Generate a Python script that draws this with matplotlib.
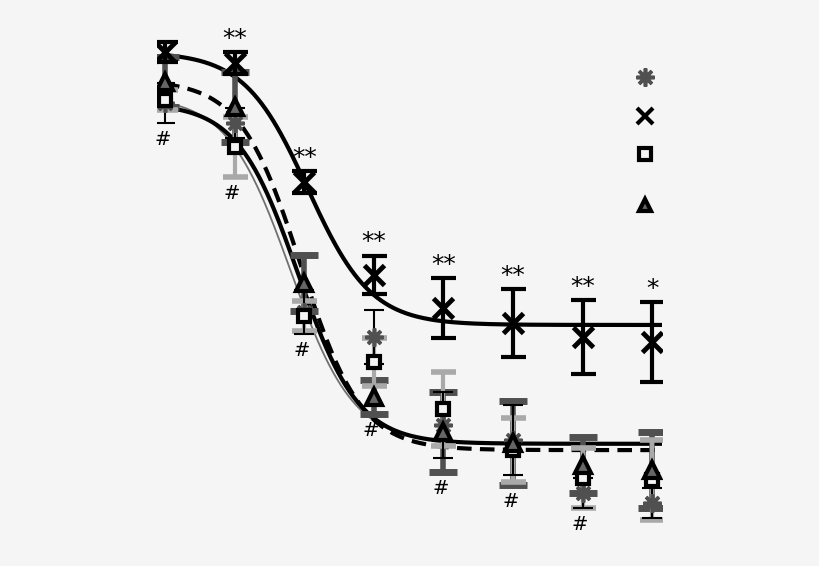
import numpy as np
import matplotlib
matplotlib.use("Agg")
import matplotlib.pyplot as plt
from matplotlib.lines import Line2D

BG = "#f5f5f5"
DARK = "#505050"
LIGHT = "#a9a9a9"

# log dose (index along x)
dose = [0, 1, 2, 3, 4, 5, 6, 7]

# mean response and SEM per group
x_mean = [99.9, 97.5, 71.1, 50.6, 43.3, 39.9, 36.8, 35.7]
x_err = [2.2, 2.4, 2.5, 4.2, 6.6, 7.5, 8.2, 8.9]
ast_mean = [88.6, 84.2, 42.4, 36.8, 17.4, 14.0, 2.3, 0.1]
ast_err = [4.4, 3.3, 4.9, 6.0, 7.3, 7.7, 3.3, 3.3]
sq_mean = [89.3, 78.9, 41.5, 31.3, 20.9, 11.8, 5.6, 5.2]
sq_err = [2.2, 6.6, 3.3, 5.3, 8.2, 7.1, 6.6, 8.9]
tri_mean = [93.3, 87.7, 48.8, 23.6, 15.8, 13.4, 8.5, 7.4]
tri_err = [5.5, 7.7, 6.2, 3.8, 8.9, 9.3, 6.2, 8.4]

# sigmoid fit parameters: top, bottom, midpoint, slope
fit_x = [99.9, 39.5, 2.05, 2.2]
fit_ast = [90.2, 13.2, 1.80, 2.2]
fit_sq = [88.6, 13.2, 1.91, 2.3]
fit_tri = [93.7, 11.8, 1.95, 2.3]

star_labels = ["", "**", "**", "**", "**", "**", "**", "*"]
hash_labels = ["#", "#", "#", "#", "#", "#", "#", ""]


def sigmoid(x, p):
    top, bottom, mid, k = p
    return bottom + (top - bottom) / (1 + np.exp(k * (x - mid)))


fig = plt.figure(figsize=(8.2, 5.66), dpi=100, facecolor=BG)
ax = fig.add_axes([157 / 820, 40 / 566, 505 / 820, 506 / 566], facecolor=BG)

xx = np.linspace(0, 7.3, 400)
ax.plot(xx, sigmoid(xx, fit_x), color="black", lw=3, zorder=2)
ax.plot(xx, sigmoid(xx, fit_ast), color="#707070", lw=1.3, zorder=2)
ax.plot(xx, sigmoid(xx, fit_sq), color="black", lw=3, zorder=2)
ax.plot(xx, sigmoid(xx, fit_tri), color="black", lw=3, ls=(0, (3.5, 2)), zorder=2)

ax.errorbar(dose, tri_mean, yerr=tri_err, fmt="none", ecolor=DARK,
            elinewidth=4, capsize=10, capthick=5, zorder=3)
ax.errorbar(dose, sq_mean, yerr=sq_err, fmt="none", ecolor=LIGHT,
            elinewidth=3, capsize=9, capthick=4, zorder=3)
ax.errorbar(dose, ast_mean, yerr=ast_err, fmt="none", ecolor="black",
            elinewidth=1.5, capsize=7, capthick=1.5, zorder=3)
ax.errorbar(dose, x_mean, yerr=x_err, fmt="none", ecolor="black",
            elinewidth=3, capsize=9, capthick=3, zorder=3)

ast_marker = (8, 2, 0)
ax.plot(dose, ast_mean, ls="none", marker=ast_marker, ms=13, mew=2.6,
        color=DARK, zorder=4)
ax.plot(dose, sq_mean, ls="none", marker="s", ms=9, mew=3,
        mec="black", mfc=BG, zorder=4)
ax.plot(dose, tri_mean, ls="none", marker="^", ms=11, mew=3,
        mec="black", mfc="#666666", zorder=4)
ax.plot(dose, x_mean, ls="none", marker="x", ms=14, mew=3.5,
        color="black", zorder=4)

# significance marks
for d, m, e, lab in zip(dose, x_mean, x_err, star_labels):
    if lab:
        ax.annotate(lab, (d, m + e), xytext=(0, 1), textcoords="offset points",
                    ha="center", va="bottom", fontsize=18, clip_on=True)
low = np.min([np.array(ast_mean) - ast_err, np.array(sq_mean) - sq_err,
              np.array(tri_mean) - tri_err], axis=0)
for d, lo, lab in zip(dose, low, hash_labels):
    if lab:
        ax.annotate(lab, (d, lo), xytext=(-2, -5), textcoords="offset points",
                    ha="center", va="top", fontsize=14, annotation_clip=False)

handles = [
    Line2D([], [], ls="none", marker=ast_marker, ms=13, mew=2.6, color=DARK),
    Line2D([], [], ls="none", marker="x", ms=12, mew=3, color="black"),
    Line2D([], [], ls="none", marker="s", ms=9, mew=3, mec="black", mfc=BG),
    Line2D([], [], ls="none", marker="^", ms=9, mew=3, mec="black", mfc="#666666"),
]
ax.legend(handles, [" ", " ", " ", " \n "], loc="upper left",
          bbox_to_anchor=(0.912, 0.938), frameon=False, fontsize=14,
          handlelength=1, labelspacing=1.0, handletextpad=0.2)

ax.set_xlim(-0.115, 7.14)
ax.set_ylim(-5, 107)
for s in ax.spines.values():
    s.set_visible(False)
ax.set_xticks([])
ax.set_yticks([])

fig.savefig("out.png", dpi=100, facecolor=BG)
